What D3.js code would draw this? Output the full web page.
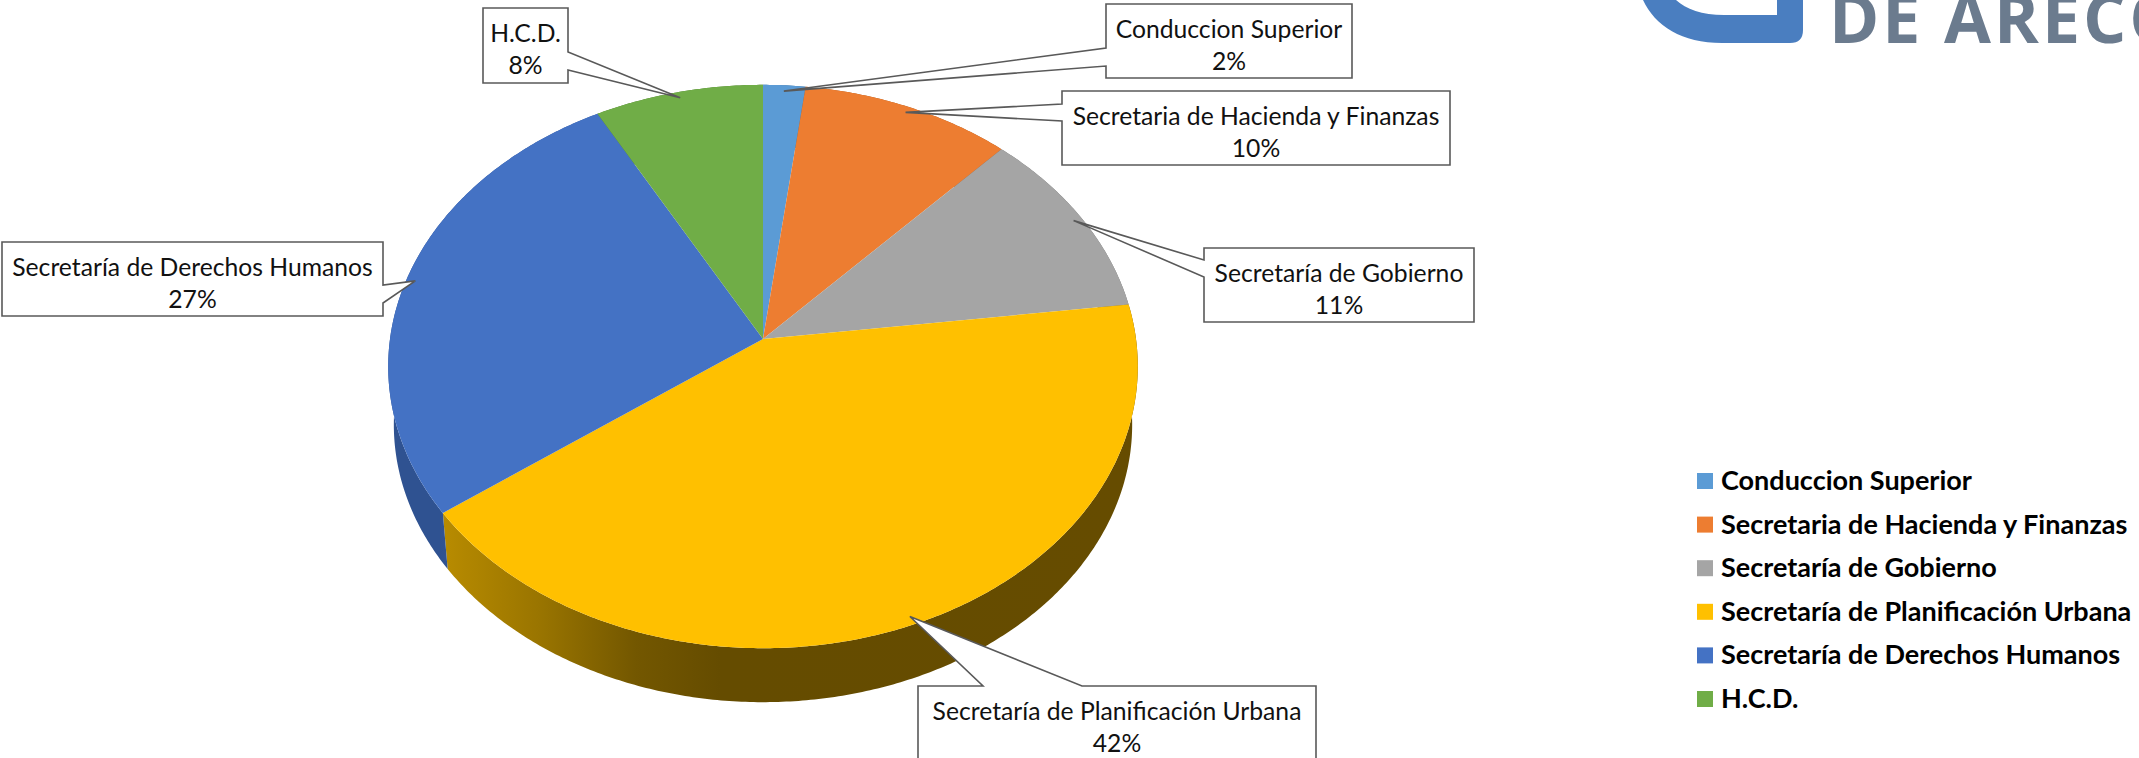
<!DOCTYPE html>
<html>
<head>
<meta charset="utf-8">
<script src="https://cdn.jsdelivr.net/npm/d3@7"></script>
<style>
  html, body { margin: 0; padding: 0; background: #fff; }
  svg { display: block; font-family: Lato, "Open Sans", sans-serif; }
</style>
</head>
<body>
<script>
// chart data
const categories = [
  "Conduccion Superior",
  "Secretaria de Hacienda y Finanzas",
  "Secretaría de Gobierno",
  "Secretaría de Planificación Urbana",
  "Secretaría de Derechos Humanos",
  "H.C.D."
];
const shares = [2, 10, 11, 42, 27, 8];
const colors = ["#5B9BD5", "#ED7D31", "#A5A5A5", "#FFC000", "#4472C4", "#70AD47"];
const sideColors = ["#3d6f9c", "#a3561f", "#707070", "#6b5000", "#34589a", "#4d7a30"];

// callout boxes (layout only)
const labelBoxes = [
  { x: 1106, y: 4,   w: 246, h: 74, side: "left",  b1: 48,  b2: 66 },
  { x: 1062, y: 91,  w: 388, h: 74, side: "left",  b1: 104, b2: 121 },
  { x: 1204, y: 248, w: 270, h: 74, side: "left",  b1: 260, b2: 277 },
  { x: 918,  y: 686, w: 398, h: 80, side: "top",   b1: 983, b2: 1082 },
  { x: 2,    y: 242, w: 381, h: 74, side: "right", b1: 285, b2: 303 },
  { x: 483,  y: 8,   w: 85,  h: 75, side: "right", b1: 52,  b2: 70 }
];

const W = 2139, H = 758;
const svg = d3.select("body").append("svg").attr("width", W).attr("height", H);

// tilted pie with a bit of perspective
const X0 = 763, Y0 = 339, S = 373, A = 279, P = 0.0977, K = 0.985, D = 58.6;
function proj(theta, r = 1, bottom = false) {
  const u = r * Math.sin(theta), v = r * Math.cos(theta);
  const w = 1 + P * v;
  const k = bottom ? K : 1;
  return [X0 + S * k * u / w, Y0 + (bottom ? D : 0) - A * k * v / w];
}
function arcPoints(a0, a1, bottom) {
  const n = Math.max(2, Math.ceil((a1 - a0) / 0.01));
  return d3.range(n + 1).map(i => proj(a0 + (a1 - a0) * i / n, 1, bottom));
}

const data = categories.map((c, i) => ({ name: c, value: shares[i], color: colors[i], side: sideColors[i] }));
const total = d3.sum(shares);
const arcs = d3.pie().sort(null).value(d => d.value)(data);
const line = d3.line();

const defs = svg.append("defs");
function wallGradient(id, stops) {
  const g = defs.append("linearGradient").attr("id", id)
    .attr("gradientUnits", "userSpaceOnUse")
    .attr("x1", 440).attr("x2", 1140).attr("y1", 0).attr("y2", 0);
  stops.forEach(s => g.append("stop").attr("offset", s[0]).attr("stop-color", s[1]));
}
wallGradient("wall3", [[0, "#b98c00"], [0.14, "#9a7500"], [0.28, "#735700"], [0.4, "#654c00"], [1, "#664c00"]]);
wallGradient("wall4", [[0, "#2f5291"], [0.05, "#36599b"], [1, "#3a60a4"]]);

// side walls
const walls = svg.append("g");
arcs.forEach((a, i) => {
  const top = arcPoints(a.startAngle, a.endAngle, false);
  const bot = arcPoints(a.startAngle, a.endAngle, true).reverse();
  const fill = (i === 3 || i === 4) ? `url(#wall${i})` : a.data.side;
  walls.append("path").attr("d", line(top.concat(bot)) + "Z").attr("fill", fill);
});

// top faces
const faces = svg.append("g");
arcs.forEach(a => {
  const pts = [[X0, Y0]].concat(arcPoints(a.startAngle, a.endAngle, false));
  faces.append("path").attr("d", line(pts) + "Z").attr("fill", a.data.color);
});

// callouts
const fmt = d3.format(".0%");
function calloutPath(b, t) {
  const x2 = b.x + b.w, y2 = b.y + b.h, tip = `${t[0]},${t[1]}`;
  if (b.side === "right")
    return `M${b.x},${b.y}H${x2}V${b.b1}L${tip}L${x2},${b.b2}V${y2}H${b.x}Z`;
  if (b.side === "left")
    return `M${b.x},${b.y}H${x2}V${y2}H${b.x}V${b.b2}L${tip}L${b.x},${b.b1}Z`;
  return `M${b.x},${b.y}H${b.b1}L${tip}L${b.b2},${b.y}H${x2}V${y2}H${b.x}Z`;
}
const labels = svg.append("g");
arcs.forEach((a, i) => {
  const b = labelBoxes[i];
  const mid = (a.startAngle + a.endAngle) / 2;
  const tip = proj(mid, 0.975);
  labels.append("path").attr("d", calloutPath(b, tip))
    .attr("fill", "#fff").attr("stroke", "#595959").attr("stroke-width", 1.6);
  const t = labels.append("text").attr("text-anchor", "middle")
    .attr("font-size", 24.7).attr("fill", "#111");
  t.append("tspan").attr("x", b.x + b.w / 2).attr("y", b.y + 34).text(a.data.name);
  t.append("tspan").attr("x", b.x + b.w / 2).attr("y", b.y + 66).text(fmt(a.data.value / total));
});

// legend
const legend = svg.append("g").attr("transform", "translate(1697,473)");
const rowH = 43.6;
const item = legend.selectAll("g").data(data).join("g")
  .attr("transform", (d, i) => `translate(0,${i * rowH})`);
item.append("rect").attr("width", 16).attr("height", 16).attr("fill", d => d.color);
item.append("text").attr("x", 24).attr("y", 17)
  .attr("font-size", 27).attr("font-weight", 700).attr("fill", "#000")
  .text(d => d.name);

// logo fragment, top right
const logo = svg.append("g");
logo.append("path")
  .attr("d", "M1643,0 C1655,26 1682,43 1722,43 L1790,43 Q1803,43 1803,30 L1803,0 L1777,0 L1777,15 L1724,15 C1702,15 1686,9 1676,0 Z")
  .attr("fill", "#4a7ec0");
logo.append("text").attr("x", 1829).attr("y", 43)
  .attr("font-family", "'Open Sans', Lato, sans-serif")
  .attr("font-size", 68).attr("font-weight", 700).attr("letter-spacing", 3)
  .attr("fill", "#6b7b8e").text("DE ARECO");
</script>
</body>
</html>
